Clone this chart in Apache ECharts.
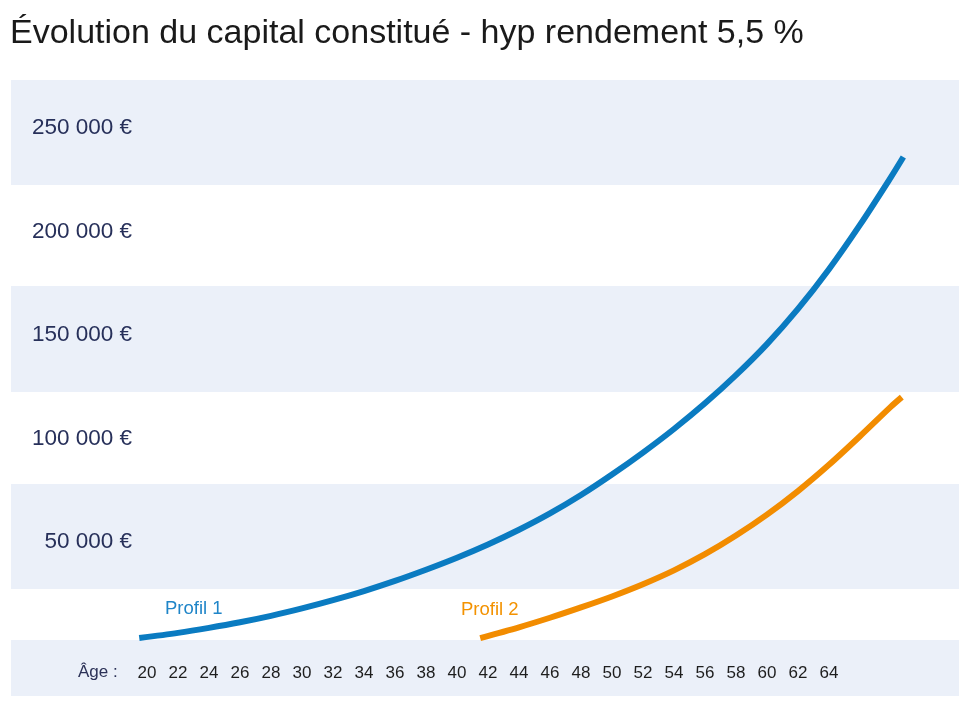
<!DOCTYPE html>
<html>
<head>
<meta charset="utf-8">
<script src="https://cdn.jsdelivr.net/npm/echarts@6/dist/echarts.min.js"></script>
<style>
html,body{margin:0;padding:0;background:#fff;}
#chart{width:965px;height:702px;}
</style>
</head>
<body>
<div id="chart"></div>
<script>
const titleText = 'Évolution du capital constitué - hyp rendement 5,5 %';
const axisPrefix = 'Âge :';
const seriesNames = ['Profil 1', 'Profil 2'];
const ageTicks = [20, 22, 24, 26, 28, 30, 32, 34, 36, 38, 40, 42, 44, 46, 48, 50, 52, 54, 56, 58, 60, 62, 64];
const valueTicks = [50000, 100000, 150000, 200000, 250000];
const ages1 = [19.5, 22, 24, 26, 28, 30, 32, 34, 36, 38, 40, 42, 44, 46, 48, 50, 52, 54, 56, 58, 60, 62, 64, 66, 68, 68.8];
const profil1 = [3600, 6100, 8500, 11200, 14300, 17900, 21900, 26300, 31200, 36600, 42400, 48800, 55900, 63800, 72700, 82600, 93200, 104600, 117000, 130600, 145600, 162600, 181800, 203200, 226300, 236000];
const ages2 = [41.5, 44, 46, 48, 50, 52, 54, 56, 58, 60, 62, 64, 66, 68, 68.7];
const profil2 = [3600, 8800, 13400, 18400, 23700, 29600, 36300, 44100, 53100, 63200, 74600, 87300, 101100, 115400, 120000];

const FONT = "'Liberation Sans', Arial, sans-serif";
const BAND = '#ebf0f9';
const fmt = v => String(v).replace(/\B(?=(\d{3})+(?!\d))/g, ' ') + ' €';

const chart = echarts.init(document.getElementById('chart'), null, {renderer: 'canvas'});
chart.setOption({
  animation: false,
  backgroundColor: '#fff',
  title: {
    text: titleText, left: 10, top: 17, padding: 0,
    textStyle: {fontFamily: FONT, fontSize: 34, fontWeight: 'normal', color: '#1a1a1a'}
  },
  grid: {left: 11, right: 6, top: 80, bottom: 6, outerBoundsMode: 'none'},
  xAxis: {
    type: 'value', min: 11.226, max: 72.39, z: 10,
    axisLine: {show: false}, axisTick: {show: false}, splitLine: {show: false},
    axisLabel: {
      inside: true, margin: 23, verticalAlign: 'middle',
      customValues: ageTicks,
      fontFamily: FONT, fontSize: 17, color: '#1e1e1e'
    }
  },
  yAxis: {
    type: 'value', min: -24400, max: 273200, z: 10,
    axisLine: {show: false}, axisTick: {show: false}, splitLine: {show: false},
    axisLabel: {
      inside: true, align: 'right', margin: 121,
      customValues: valueTicks, formatter: fmt,
      fontFamily: FONT, fontSize: 22.5, color: '#27305a'
    }
  },
  graphic: [
    {type: 'text', left: 78, top: 664, z: 100, style: {text: axisPrefix, font: '17px ' + FONT, fill: '#2b3157'}},
    {type: 'text', left: 165, top: 599, z: 100, style: {text: seriesNames[0], font: '18.5px ' + FONT, fill: '#1f85c8'}},
    {type: 'text', left: 461, top: 600, z: 100, style: {text: seriesNames[1], font: '18.5px ' + FONT, fill: '#f39200'}}
  ],
  series: [
    {
      name: seriesNames[0], type: 'line', smooth: 0.3, symbol: 'none',
      data: ages1.map((a, i) => [a, profil1[i]]),
      lineStyle: {color: '#0a7bc1', width: 6, cap: 'butt'},
      z: 3,
      markArea: {
        silent: true,
        itemStyle: {color: BAND},
        data: [
          [{yAxis: 222500}, {yAxis: 273200}],
          [{yAxis: 122500}, {yAxis: 173700}],
          [{yAxis: 27300}, {yAxis: 78000}],
          [{yAxis: -24400}, {yAxis: 2700}]
        ]
      }
    },
    {
      name: seriesNames[1], type: 'line', smooth: 0.3, symbol: 'none',
      data: ages2.map((a, i) => [a, profil2[i]]),
      lineStyle: {color: '#f28c00', width: 6, cap: 'butt'},
      z: 3
    }
  ]
});
</script>
</body>
</html>
